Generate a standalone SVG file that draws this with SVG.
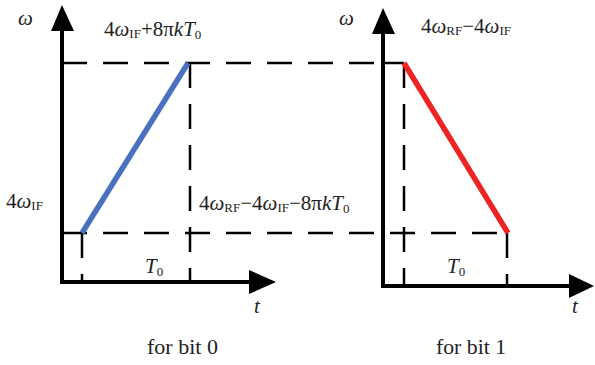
<svg xmlns="http://www.w3.org/2000/svg" width="595" height="365" viewBox="0 0 595 365">
<style>
.axis{stroke:#000;stroke-width:4;fill:none}
.dash{stroke:#000;stroke-width:2.5;fill:none;stroke-dasharray:25 16}
.t{font-family:"Liberation Serif","DejaVu Serif",serif;font-size:21px;fill:#222}
.i{font-style:italic}
.s{font-size:13px}
.cap{font-family:"Liberation Serif","DejaVu Serif",serif;font-size:20px;fill:#222}
</style>
<rect width="595" height="365" fill="#fff"/>
<g id="dashes">
<path class="dash" d="M62,63 H383"/>
<path class="dash" d="M62,233 H508"/>
<path class="dash" d="M190,63 V282"/>
<path class="dash" d="M82,233 V282"/>
<path class="dash" d="M404,63 V286"/>
<path class="dash" d="M507,233 V286"/>
<path d="M383,63 H404" stroke="#000" stroke-width="2.5"/>
</g>
<g id="plot-bit0">
<path class="axis" d="M62,282 V30" />
<path d="M62,5 L51,31 L74,31 Z" fill="#000"/>
<path class="axis" d="M60,282 H250"/>
<path d="M276,282 L249,270 L249,294 Z" fill="#000"/>
<line x1="82" y1="233" x2="188" y2="63" stroke="#4a70bf" stroke-width="5.5"/>
</g>
<g id="plot-bit1">
<path class="axis" d="M383,286 V33"/>
<path d="M383,8 L372,34 L395,34 Z" fill="#000"/>
<path class="axis" d="M381,286 H571"/>
<path d="M594,286 L569,274 L569,298 Z" fill="#000"/>
<line x1="404" y1="63" x2="508" y2="233" stroke="#ee2323" stroke-width="5.5"/>
</g>
<g id="labels">
<text class="t i" x="18" y="25">ω</text>
<text class="t" x="104" y="36">4<tspan class="i">ω</tspan><tspan class="s" dy="2">IF</tspan><tspan dy="-2">+8π</tspan><tspan class="i">kT</tspan><tspan class="s" dy="3">0</tspan></text>
<text class="t" x="6" y="208">4<tspan class="i">ω</tspan><tspan class="s" dy="2">IF</tspan></text>
<text class="t" x="199" y="210">4<tspan class="i">ω</tspan><tspan class="s" dy="2">RF</tspan><tspan dy="-2">−4</tspan><tspan class="i">ω</tspan><tspan class="s" dy="2">IF</tspan><tspan dy="-2">−8π</tspan><tspan class="i">kT</tspan><tspan class="s" dy="3">0</tspan></text>
<text class="t i" x="145" y="273">T<tspan class="s" style="font-style:normal" dy="3">0</tspan></text>
<text class="t i" x="254" y="313">t</text>
<text class="t i" x="339" y="25">ω</text>
<text class="t" x="421" y="33">4<tspan class="i">ω</tspan><tspan class="s" dy="2">RF</tspan><tspan dy="-2">−4</tspan><tspan class="i">ω</tspan><tspan class="s" dy="2">IF</tspan></text>
<text class="t i" x="447" y="273">T<tspan class="s" style="font-style:normal" dy="3">0</tspan></text>
<text class="t i" x="572" y="313">t</text>
<text class="cap" x="147" y="354" textLength="71" lengthAdjust="spacingAndGlyphs">for bit 0</text>
<text class="cap" x="436" y="354" textLength="70" lengthAdjust="spacingAndGlyphs">for bit 1</text>
</g>
</svg>
